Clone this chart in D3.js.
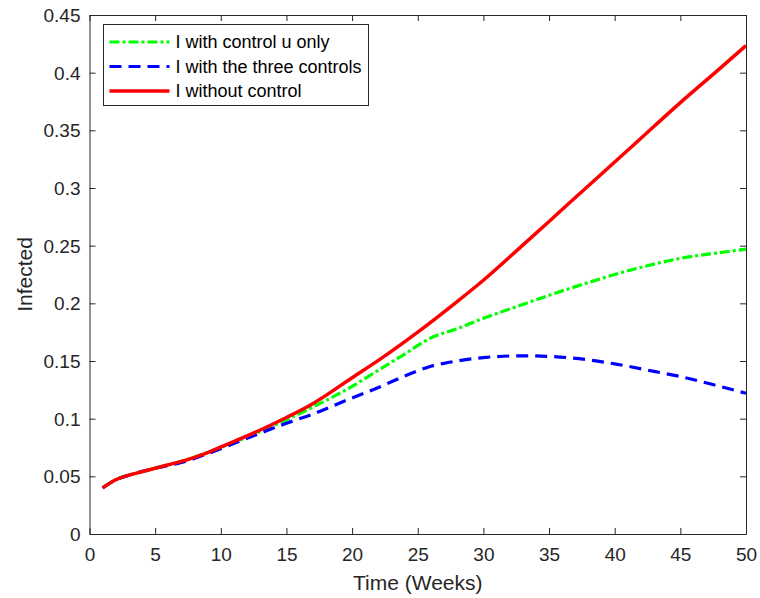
<!DOCTYPE html>
<html>
<head>
<meta charset="utf-8">
<script src="https://cdn.jsdelivr.net/npm/d3@7"></script>
<style>
  body { margin: 0; background: #fff; }
  svg text { font-family: "Liberation Sans", Arial, Helvetica, sans-serif; fill: #262626; }
</style>
</head>
<body>
<div id="chart"></div>
<script>
// weeks and infected fractions
const weeksRed   = [1, 2, 3, 4, 5, 6, 7, 8, 9, 10, 12, 15, 17, 20, 22, 25, 28, 30, 33, 35, 38, 40, 43, 45, 48, 50];
const noControl  = [0.040, 0.047, 0.051, 0.054, 0.057, 0.060, 0.063, 0.0665, 0.0705, 0.0755, 0.085, 0.101, 0.113, 0.1355, 0.1505, 0.175, 0.2015, 0.220, 0.2505, 0.271, 0.302, 0.3225, 0.3535, 0.374, 0.4035, 0.4235];

const weeksGreen = [1, 2, 3, 5, 7, 10, 12, 15, 17, 20, 22, 24, 26, 28, 30, 33, 35, 38, 40, 43, 45, 48, 50];
const controlU   = [0.040, 0.047, 0.051, 0.057, 0.063, 0.075, 0.084, 0.099, 0.110, 0.128, 0.142, 0.156, 0.170, 0.178, 0.187, 0.199, 0.207, 0.218, 0.225, 0.234, 0.239, 0.244, 0.247];

const weeksBlue  = [1, 2, 3, 5, 7, 10, 12, 15, 17, 20, 22, 24, 25, 26, 27, 28, 30, 33, 35, 38, 40, 43, 45, 48, 50];
const threeCtrl  = [0.040, 0.047, 0.051, 0.057, 0.062, 0.074, 0.083, 0.096, 0.104, 0.118, 0.127, 0.137, 0.1415, 0.1455, 0.148, 0.150, 0.153, 0.1545, 0.154, 0.151, 0.1475, 0.141, 0.1365, 0.128, 0.122];

const xTicks = [0, 5, 10, 15, 20, 25, 30, 35, 40, 45, 50];
const yTicks = [0, 0.05, 0.1, 0.15, 0.2, 0.25, 0.3, 0.35, 0.4, 0.45];
const legendLabels = ["I with control u only", "I with the three controls", "I without control"];

let width = 760, height = 598;
let margin = {top: 15, right: 14, bottom: 64, left: 89.5};
let w = width - margin.left - margin.right;
let h = height - margin.top - margin.bottom;

let svg = d3.select("#chart").append("svg")
    .attr("width", width)
    .attr("height", height);

let g = svg.append("g")
    .attr("transform", "translate(" + margin.left + "," + margin.top + ")");

let xScale = d3.scaleLinear().domain([0, 50]).range([0, w]);
let yScale = d3.scaleLinear().domain([0, 0.45]).range([h, 0]);

const axisColor = "#262626";
const fmt = d => d3.format("")(+d.toFixed(2));

// bottom / left axes with labels, ticks pointing inward
g.append("g")
    .attr("transform", "translate(0," + h + ")")
    .call(d3.axisBottom(xScale).tickValues(xTicks).tickSizeInner(-6).tickSizeOuter(0).tickPadding(14).tickFormat(fmt))
    .call(a => a.selectAll("text").style("font-size", "19px"));

g.append("g")
    .call(d3.axisLeft(yScale).tickValues(yTicks).tickSizeInner(-6).tickSizeOuter(0).tickPadding(9).tickFormat(fmt))
    .call(a => a.selectAll("text").style("font-size", "19px").attr("dy", "0.35em"));

// top / right ticks (box)
g.append("g")
    .call(d3.axisTop(xScale).tickValues(xTicks).tickSizeInner(-6).tickSizeOuter(0).tickFormat(""));
g.append("g")
    .attr("transform", "translate(" + w + ",0)")
    .call(d3.axisRight(yScale).tickValues(yTicks).tickSizeInner(-6).tickSizeOuter(0).tickFormat(""));

g.selectAll(".domain, .tick line").attr("stroke", axisColor).attr("stroke-width", 1);

// axis titles
svg.append("text")
    .attr("x", margin.left + w / 2)
    .attr("y", 590)
    .attr("text-anchor", "middle")
    .style("font-size", "21px")
    .text("Time (Weeks)");

svg.append("text")
    .attr("transform", "translate(32," + (margin.top + h / 2) + ")rotate(-90)")
    .attr("text-anchor", "middle")
    .style("font-size", "21px")
    .text("Infected");

let line = d3.line()
    .x(d => xScale(d[0]))
    .y(d => yScale(d[1]))
    .curve(d3.curveMonotoneX);

const series = [
  {weeks: weeksGreen, vals: controlU,  color: "#00ff00", dash: "10,3,3,3", width: 3.2},
  {weeks: weeksBlue,  vals: threeCtrl, color: "#0000ff", dash: "12,7",     width: 3.2},
  {weeks: weeksRed,   vals: noControl, color: "#ff0000", dash: null,       width: 3.5}
];

let plot = g.append("g");
series.forEach(s => {
  plot.append("path")
      .datum(s.weeks.map((t, i) => [t, s.vals[i]]))
      .attr("fill", "none")
      .attr("stroke", s.color)
      .attr("stroke-width", s.width)
      .attr("stroke-dasharray", s.dash)
      .attr("d", line);
});

// legend
let legend = svg.append("g").attr("transform", "translate(103.5,24.5)");
legend.append("rect")
    .attr("width", 265)
    .attr("height", 81)
    .attr("fill", "#fff")
    .attr("stroke", axisColor)
    .attr("stroke-width", 1);

series.forEach((s, i) => {
  let yy = 17.5 + i * 24.5;
  legend.append("line")
      .attr("x1", 6).attr("x2", 66)
      .attr("y1", yy).attr("y2", yy)
      .attr("stroke", s.color)
      .attr("stroke-width", s.width)
      .attr("stroke-dasharray", s.dash);
  legend.append("text")
      .attr("x", 72)
      .attr("y", yy)
      .attr("dy", "0.35em")
      .style("font-size", "18px")
      .style("fill", "#000")
      .text(legendLabels[i]);
});
</script>
</body>
</html>
